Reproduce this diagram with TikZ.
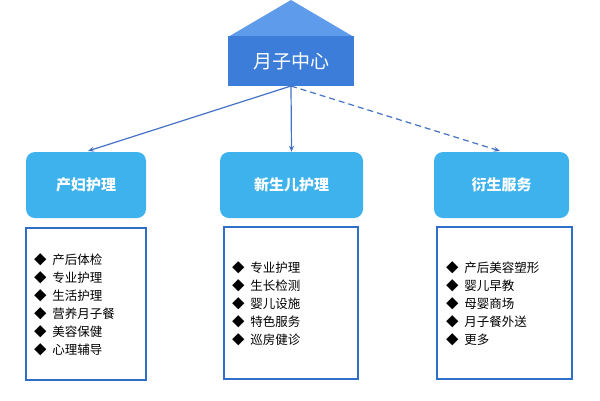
\documentclass[tikz,border=0pt]{standalone}
\usepackage{fontspec}
\setmainfont{Noto Sans CJK SC}
\usetikzlibrary{arrows.meta}
\definecolor{roofc}{HTML}{5E9BEB}
\definecolor{headc}{HTML}{3B7DD8}
\definecolor{boxc}{HTML}{3DB2EC}
\definecolor{linec}{HTML}{4472C4}
\definecolor{listc}{HTML}{2F6FC8}
\tikzset{
 cat/.style={rounded corners=9pt, fill=boxc, text=white, font=\fontsize{15}{18}\selectfont\bfseries},
 lst/.style={draw=listc, line width=1.2pt, fill=white},
 conn/.style={-{Stealth[length=6pt,width=5pt]}, draw=linec, line width=1.2pt},
 item/.style={anchor=west, font=\fontsize{12.5}{18}\selectfont, inner sep=0pt}
}
\begin{document}
\begin{tikzpicture}[x=1pt,y=-1pt]
\useasboundingbox (0,0) rectangle (600,400);
\fill[roofc] (228,37) -- (291,0) -- (354,37) -- cycle;
\node[fill=headc, minimum width=126pt, minimum height=50pt, inner sep=0pt, text=white, font=\fontsize{19}{22}\selectfont] (top) at (291,61) {月子中心};
\node[cat, minimum width=120pt, minimum height=66pt] (a) at (86,185) {产妇护理};
\node[cat, minimum width=143pt, minimum height=66pt] (b) at (291.5,185) {新生儿护理};
\node[cat, minimum width=135pt, minimum height=66pt] (c) at (501.5,185) {衍生服务};
\coordinate (s) at (291,86);
\coordinate (ta) at (88,151);
\coordinate (tc) at (500,151);
\draw[conn] (s) -- (ta);
\draw[conn] (s) -- (b.north);
\draw[conn, dashed, dash pattern=on 6pt off 4pt] (s) -- (tc);
\draw[lst] (26,228) rectangle (146,380);
\draw[lst] (224,227) rectangle (358,379);
\draw[lst] (437,227) rectangle (572,379);
\foreach \t [count=\i] in {产后体检,专业护理,生活护理,营养月子餐,美容保健,心理辅导}
  \node[item] (l\i) at (34,242+18*\i) {◆ \ \t};
\foreach \t [count=\i] in {专业护理,生长检测,婴儿设施,特色服务,巡房健诊}
  \node[item] (m\i) at (232,250+18*\i) {◆ \ \t};
\foreach \t [count=\i] in {产后美容塑形,婴儿早教,母婴商场,月子餐外送,更多}
  \node[item] (r\i) at (446,250+18*\i) {◆ \ \t};
\end{tikzpicture}
\end{document}
